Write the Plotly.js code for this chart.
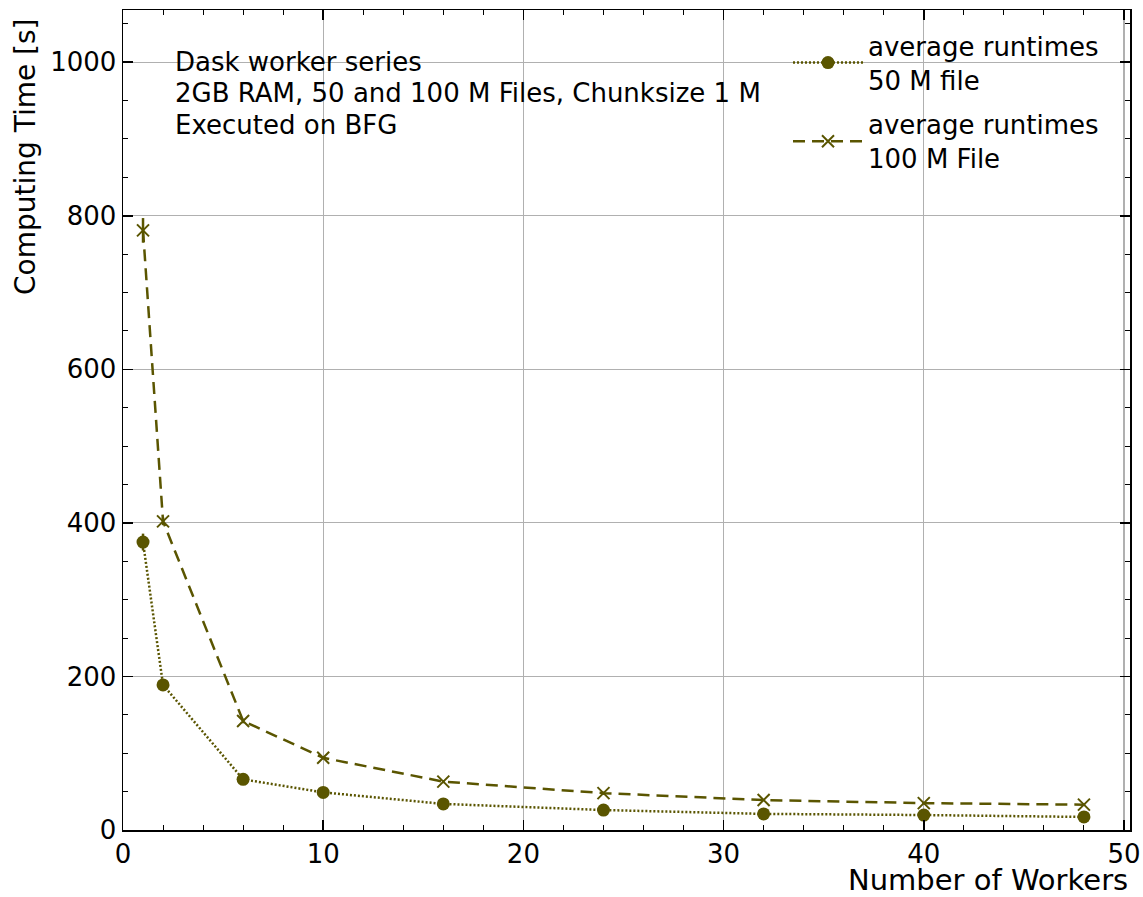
<!DOCTYPE html>
<html>
<head>
<meta charset="utf-8">
<script src="https://cdn.plot.ly/plotly-3.0.1.min.js"></script>
<style>html,body{margin:0;padding:0;background:#fff;}#chart{width:1143px;height:897px;}</style>
</head>
<body>
<div id="chart"></div>
<script>
const workers = [1, 2, 6, 10, 16, 24, 32, 40, 48];
const runtime50M = [375, 189, 66, 49, 34, 26, 21, 19.5, 17];
const err50M = [11, 3, 2, 2, 1, 1, 1, 1, 1];
const runtime100M = [781, 402, 142, 94, 63, 48, 39, 35, 33];
const err100M = [16, 5, 3, 2, 2, 2, 1, 1, 1];
const seriesNames = ["average runtimes<br>50 M file", "average runtimes<br>100 M File"];
const infoLines = ["Dask worker series", "2GB RAM, 50 and 100 M Files, Chunksize 1 M", "Executed on BFG"];
const xTitle = "Number of Workers";
const yTitle = "Computing Time [s]";

const olive = "#5a5500";
const font = "DejaVu Sans, sans-serif";

const traces = [
  {
    x: workers, y: runtime50M, name: seriesNames[0], type: "scatter", mode: "lines+markers",
    legendgroup: "a",
    line: {color: olive, width: 2.5, dash: "2px,2px"},
    marker: {symbol: "circle", size: 13, color: olive},
    error_y: {type: "data", array: err50M, visible: true, color: olive, thickness: 2.5, width: 0}
  },
  {
    x: workers, y: runtime100M, name: seriesNames[1], type: "scatter", mode: "lines+markers",
    legendgroup: "b",
    line: {color: olive, width: 2.5, dash: "12px,7px"},
    marker: {symbol: "x-thin", size: 12, color: olive, line: {color: olive, width: 2}},
    error_y: {type: "data", array: err100M, visible: true, color: olive, thickness: 2.5, width: 0}
  }
];

const axisCommon = {
  showline: true, linecolor: "#000", linewidth: 1.5, mirror: "allticks",
  ticks: "inside", ticklen: 10, tickwidth: 1.5, tickcolor: "#000",
  showgrid: true, gridcolor: "#b0b0b0", gridwidth: 1.2,
  zeroline: false,
  tickfont: {family: font, size: 26, color: "#000"}
};

const lineY = [62, 93.5, 125];
const infoAnnotations = infoLines.map((t, i) => ({
  xref: "paper", yref: "paper", x: 0.05, y: (830 - lineY[i]) / 820,
  xanchor: "left", yanchor: "middle", text: t, showarrow: false, align: "left",
  font: {family: font, size: 26, color: "#000"}
}));

const layout = {
  width: 1143, height: 897,
  margin: {l: 123, r: 13, t: 10, b: 67},
  paper_bgcolor: "#fff", plot_bgcolor: "#fff",
  font: {family: font, color: "#000"},
  xaxis: Object.assign({}, axisCommon, {
    range: [0, 50.3], dtick: 10, tick0: 0,
    minor: {dtick: 2, ticks: "inside", ticklen: 5, tickcolor: "#000", tickwidth: 1, showgrid: false}
  }),
  yaxis: Object.assign({}, axisCommon, {
    range: [0, 1068], dtick: 200, tick0: 0,
    minor: {dtick: 50, ticks: "inside", ticklen: 5, tickcolor: "#000", tickwidth: 1, showgrid: false}
  }),
  showlegend: true,
  legend: {
    x: (788 - 123) / 1007, y: 0.985, xanchor: "left", yanchor: "top",
    bgcolor: "rgba(0,0,0,0)", borderwidth: 0,
    font: {family: font, size: 26, color: "#000"},
    itemwidth: 70, traceorder: "grouped", tracegroupgap: 8
  },
  annotations: infoAnnotations.concat([
    {
      xref: "paper", yref: "paper", x: 1, y: -(880 - 830) / 820, xanchor: "right", yanchor: "middle",
      text: xTitle, showarrow: false, font: {family: font, size: 29, color: "#000"}
    },
    {
      xref: "paper", yref: "paper", x: (25 - 123) / 1007, y: (830 - 157) / 820,
      xanchor: "center", yanchor: "middle",
      text: yTitle, textangle: -90, showarrow: false, font: {family: font, size: 28, color: "#000"}
    }
  ])
};

Plotly.newPlot("chart", traces, layout, {displayModeBar: false, staticPlot: true});
</script>
</body>
</html>
